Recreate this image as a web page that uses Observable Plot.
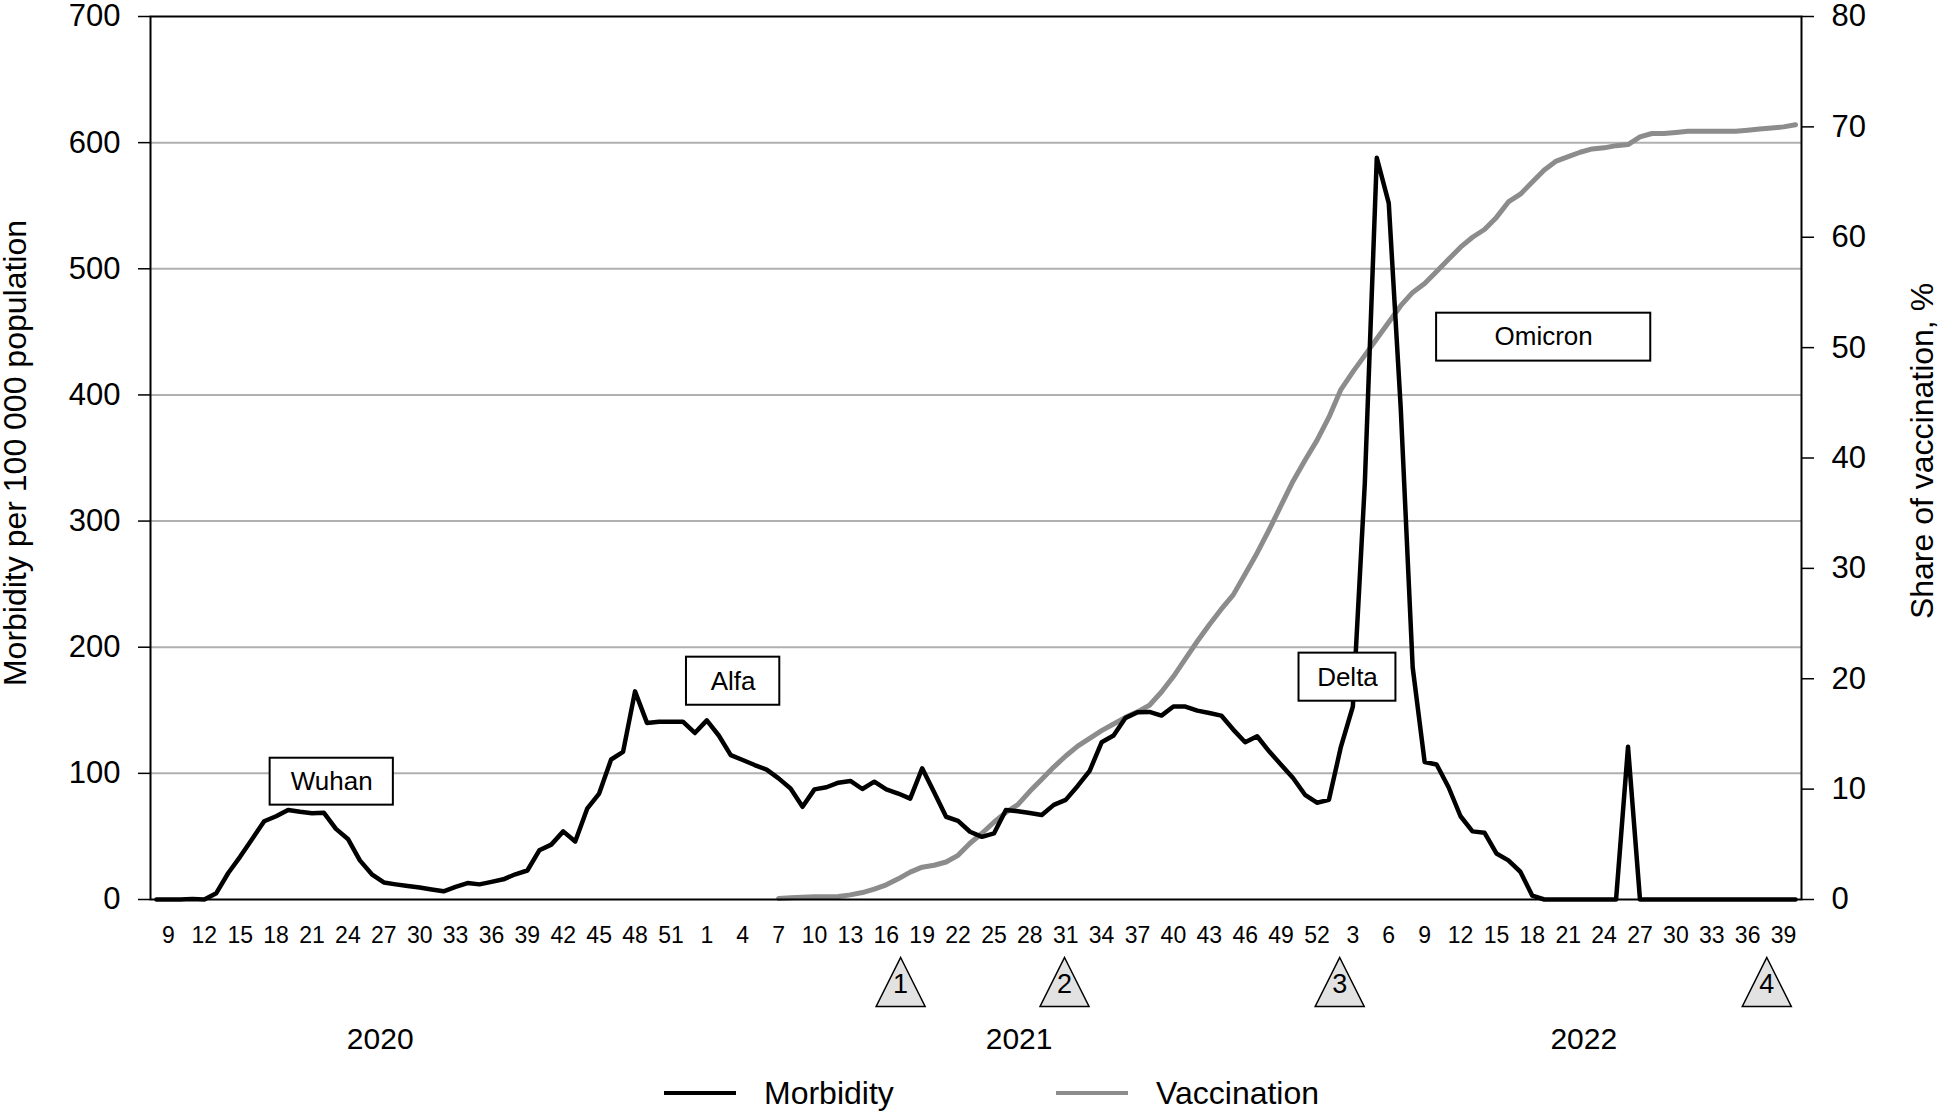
<!DOCTYPE html>
<html>
<head>
<meta charset="utf-8">
<script src="https://cdn.jsdelivr.net/npm/d3@7"></script>
<script src="https://cdn.jsdelivr.net/npm/@observablehq/plot@0.6"></script>
<style>
  html, body { margin: 0; padding: 0; background: #fff; overflow: hidden; }
  body { font-family: "Liberation Sans", Arial, Helvetica, sans-serif; color: #000; width: 1940px; }
  #legend { position: relative; width: 1940px; height: 74px; }
  #legend .sw { position: absolute; top: 31px; height: 4px; width: 72px; }
  #legend .lt { position: absolute; top: 33px; transform: translateY(-50%); font-size: 32px; line-height: 1; white-space: nowrap; }
</style>
</head>
<body>
<div id="chart"></div>
<div id="legend">
  <span class="sw" style="left:664px;background:#000"></span><span class="lt" style="left:764px">Morbidity</span>
  <span class="sw" style="left:1056px;background:#8c8c8c"></span><span class="lt" style="left:1156px">Vaccination</span>
</div>
<script>
// ---- categories: ISO weeks, 2020 w8 .. 2022 w40 ----
const weeks = [...d3.range(8, 54), ...d3.range(1, 53), ...d3.range(1, 41)];

// ---- morbidity per 100 000 population (one value per week) ----
const morbidity = [
  0, 0, 0, 0.3, 0, 5, 21, 34, 48, 62,
  66, 71, 69.5, 68.4, 68.7, 56, 48, 31, 20, 13.5,
  12, 10.7, 9.5, 8, 6.5, 10, 13, 12, 14, 16,
  20, 23, 39, 43.5, 54, 46, 72, 84, 111, 117,
  165, 140, 141, 141, 141, 132, 142, 130, 114.5, 110.6,
  106.6, 103, 96, 88, 73.5, 87.3, 89, 92.6, 94, 87.6,
  93.4, 87.3, 84, 80, 104, 85, 65.6, 62.4, 53.7, 49.7,
  52.4, 71, 70, 68.5, 67, 75, 79, 90, 102, 124.6,
  130, 144, 148.4, 148.7, 145.8, 153, 153, 149.7, 147.9, 145.8,
  134.7, 124.6, 129.4, 117.5, 106.9, 96.3, 83, 76.7, 79, 121,
  153, 330, 588, 552, 390, 184, 109, 107, 89, 66,
  54, 53, 36.5, 31, 22, 3, 0, 0, 0, 0,
  0, 0, 0, 121, 0, 0, 0, 0, 0, 0,
  0, 0, 0, 0, 0, 0, 0, 0
];

// ---- share of vaccination, % (starts 2021 w7) ----
const vaccination = [
  ...Array(52).fill(null),
  0.1, 0.15, 0.2, 0.25, 0.25, 0.27, 0.42, 0.63, 0.94, 1.33,
  1.87, 2.48, 2.93, 3.1, 3.4, 4.0, 5.1, 6.0, 7.0, 7.9,
  8.6, 9.8, 10.9, 12.0, 13.0, 13.9, 14.6, 15.3, 15.9, 16.5,
  17.0, 17.6, 18.8, 20.2, 21.8, 23.4, 24.9, 26.3, 27.6, 29.5,
  31.4, 33.5, 35.7, 37.9, 39.8, 41.6, 43.7, 46.2, 47.8, 49.3,
  50.8, 52.3, 53.8, 55.0, 55.8, 56.9, 58.0, 59.1, 60.0, 60.7,
  61.8, 63.2, 63.9, 65.0, 66.1, 66.9, 67.3, 67.7, 68.0, 68.1,
  68.3, 68.4, 69.1, 69.4, 69.4, 69.5, 69.6, 69.6, 69.6, 69.6,
  69.6, 69.7, 69.8, 69.9, 70.0, 70.2
];

// ---- axes ----
const leftTicks = [0, 100, 200, 300, 400, 500, 600, 700];
const rightTicks = [0, 10, 20, 30, 40, 50, 60, 70, 80];
const gridValues = [100, 200, 300, 400, 500, 600];
const tickIndex = d3.range(1, weeks.length, 3);

// ---- annotations ----
const variantNames = ["Wuhan", "Alfa", "Delta", "Omicron"];
const variantX1 = [9.5, 44.3, 95.5, 107.0];
const variantX2 = [19.8, 52.1, 103.6, 124.9];
const variantLow = [74.8, 154.0, 157.2, 426.8];
const variantHigh = [112.0, 192.1, 195.3, 464.8];

const markerLabels = ["1", "2", "3", "4"];
const markerWeek = [62.2, 75.9, 98.9, 134.6];

const yearLabels = ["2020", "2021", "2022"];
const yearWeek = [18.7, 72.1, 119.3];

// ---- build ----
const Y_MAX = 700, PCT_MAX = 80;
const toUnits = p => p * Y_MAX / PCT_MAX;

const data = weeks.map((w, i) => ({
  i, week: w, morbidity: morbidity[i],
  vacc: vaccination[i] == null ? NaN : toUnits(vaccination[i])
}));
const variants = variantNames.map((name, k) => ({
  name, x1: variantX1[k], x2: variantX2[k], y1: variantLow[k], y2: variantHigh[k]
}));
const markers = markerLabels.map((label, k) => ({label, x: markerWeek[k]}));
const years = yearLabels.map((label, k) => ({label, x: yearWeek[k]}));

// isosceles triangle symbol (width = height = 2r)
const isoTriangle = {
  draw(context, size) {
    const r = Math.sqrt(size / Math.PI);
    context.moveTo(0, -r);
    context.lineTo(r, r);
    context.lineTo(-r, r);
    context.closePath();
  }
};

const FONT = "Liberation Sans, Arial, Helvetica, sans-serif";

const chart = Plot.plot({
  width: 1940,
  height: 1060,
  marginLeft: 150,
  marginRight: 139,
  marginTop: 16,
  marginBottom: 161,
  style: {fontFamily: FONT, color: "#000", background: "#fff", overflow: "visible"},
  x: {type: "linear", domain: [-0.5, weeks.length - 0.5]},
  y: {domain: [0, Y_MAX]},
  marks: [
    Plot.gridY(gridValues, {stroke: "#b0b0b0", strokeOpacity: 1, strokeWidth: 2}),
    Plot.line(data, {x: "i", y: "vacc", stroke: "#8c8c8c", strokeWidth: 5, strokeLinejoin: "round", strokeLinecap: "round"}),
    Plot.line(data, {x: "i", y: "morbidity", stroke: "#000", strokeWidth: 4.5, strokeLinejoin: "round", strokeLinecap: "round"}),
    Plot.frame({stroke: "#000", strokeWidth: 2}),
    Plot.rect(variants, {x1: "x1", x2: "x2", y1: "y1", y2: "y2", fill: "#fff", stroke: "#000", strokeWidth: 2}),
    Plot.text(variants, {x: d => (d.x1 + d.x2) / 2, y: d => (d.y1 + d.y2) / 2, text: "name", fontSize: 26}),
    Plot.axisY(leftTicks, {anchor: "left", tickSize: 12, tickPadding: 18, fontSize: 31, strokeWidth: 1.5, label: null}),
    Plot.axisY(rightTicks.map(toUnits), {anchor: "right", tickSize: 12, tickPadding: 18, fontSize: 31, strokeWidth: 1.5,
      tickFormat: d => String(Math.round(d * PCT_MAX / Y_MAX)), label: null}),
    Plot.axisX(tickIndex, {anchor: "bottom", tickSize: 0, tickPadding: 27, fontSize: 23,
      tickFormat: i => String(weeks[i]), label: null}),
    Plot.dot(markers, {x: "x", frameAnchor: "bottom", dy: 82.5, r: 24.5, symbol: isoTriangle,
      fill: "#e2e2e2", stroke: "#000", strokeWidth: 1.5}),
    Plot.text(markers, {x: "x", frameAnchor: "bottom", dy: 93, text: "label", fontSize: 27}),
    Plot.text(years, {x: "x", frameAnchor: "bottom", dy: 149, text: "label", fontSize: 30}),
    Plot.text(["Morbidity per 100 000 population"], {frameAnchor: "left", textAnchor: "middle", rotate: -90, dx: -135, dy: -5, fontSize: 32}),
    Plot.text(["Share of vaccination, %"], {frameAnchor: "right", textAnchor: "middle", rotate: -90, dx: 121, dy: -7, fontSize: 32})
  ]
});
document.getElementById("chart").appendChild(chart);
</script>
</body>
</html>
